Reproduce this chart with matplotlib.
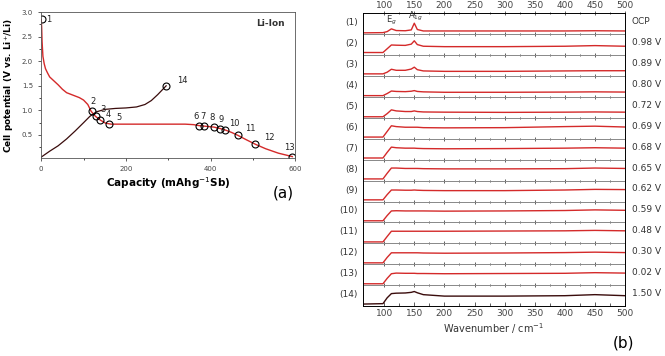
import matplotlib.pyplot as plt

# ---- panel (a): galvanostatic curve ----
cap_dis = [0, 1, 2, 4, 7, 10, 15, 20, 30, 40, 50, 60, 75, 90, 100, 110, 118, 128, 140, 152, 165,
           200, 250, 300, 340, 360, 373, 385, 408, 423, 435, 450, 465, 485, 506, 530, 560, 593]
v_dis = [2.85, 2.7, 2.4, 2.1, 1.95, 1.85, 1.76, 1.68, 1.6, 1.52, 1.43, 1.36, 1.31, 1.26, 1.21, 1.12,
         0.98, 0.88, 0.8, 0.74, 0.72, 0.72, 0.72, 0.72, 0.72, 0.71, 0.69, 0.68, 0.66, 0.63, 0.6, 0.55,
         0.49, 0.4, 0.31, 0.22, 0.13, 0.06]
cap_ch = [0, 20, 40, 60, 80, 100, 115, 130, 150, 175, 200, 225, 245, 260, 275, 295]
v_ch = [0.05, 0.17, 0.28, 0.42, 0.58, 0.75, 0.88, 0.97, 1.02, 1.04, 1.05, 1.07, 1.12, 1.2, 1.32, 1.5]

pt_cap = [1, 119, 129, 139, 161, 373, 385, 408, 423, 435, 465, 506, 593, 295]
pt_v = [2.85, 0.98, 0.88, 0.8, 0.72, 0.69, 0.68, 0.66, 0.63, 0.6, 0.49, 0.31, 0.06, 1.5]
pt_lab = ["1", "2", "3", "4", "5", "6", "7", "8", "9", "10", "11", "12", "13", "14"]
pt_off = [(3, -2), (-1, 5), (3, 3), (4, 2), (5, 3), (-4, 5), (-3, 5), (-3, 5), (-1, 5), (3, 3),
          (5, 3), (6, 3), (-6, 5), (8, 2)]

# ---- panel (b): Raman spectra ----
wn = [65, 98, 105, 112, 120, 135, 145, 150, 155, 165, 200, 300, 400, 450, 500]
spectra = [
    [0.06, 0.07, 0.12, 0.25, 0.17, 0.16, 0.2, 0.52, 0.22, 0.15, 0.15, 0.15, 0.15, 0.16, 0.15],
    [0.12, 0.12, 0.3, 0.48, 0.47, 0.46, 0.52, 0.68, 0.5, 0.42, 0.4, 0.4, 0.42, 0.45, 0.42],
    [0.1, 0.1, 0.18, 0.32, 0.27, 0.27, 0.33, 0.42, 0.3, 0.24, 0.22, 0.22, 0.24, 0.25, 0.25],
    [0.06, 0.06, 0.16, 0.28, 0.26, 0.25, 0.27, 0.3, 0.26, 0.24, 0.22, 0.22, 0.23, 0.24, 0.23],
    [0.05, 0.05, 0.2, 0.38, 0.33, 0.3, 0.3, 0.33, 0.3, 0.28, 0.27, 0.26, 0.27, 0.28, 0.27],
    [0.08, 0.08, 0.35, 0.62, 0.58, 0.55, 0.55, 0.55, 0.55, 0.53, 0.52, 0.53, 0.58, 0.6, 0.56],
    [0.08, 0.08, 0.35, 0.6, 0.57, 0.55, 0.55, 0.55, 0.54, 0.53, 0.52, 0.53, 0.55, 0.57, 0.55],
    [0.08, 0.08, 0.35, 0.6, 0.6, 0.58, 0.58, 0.58, 0.58, 0.57, 0.56, 0.56, 0.57, 0.6, 0.58],
    [0.08, 0.08, 0.33, 0.55, 0.55, 0.54, 0.54, 0.55, 0.54, 0.53, 0.52, 0.52, 0.55, 0.58, 0.57],
    [0.08, 0.08, 0.33, 0.55, 0.56, 0.55, 0.55, 0.55, 0.55, 0.55, 0.54, 0.55, 0.57, 0.6, 0.58],
    [0.07, 0.07, 0.33, 0.58, 0.58, 0.58, 0.58, 0.58, 0.58, 0.58, 0.58, 0.59, 0.6, 0.62, 0.6],
    [0.07, 0.07, 0.33, 0.55, 0.55, 0.55, 0.55, 0.55, 0.55, 0.54, 0.53, 0.54, 0.56, 0.58, 0.56],
    [0.07, 0.07, 0.33, 0.55, 0.58, 0.57, 0.57, 0.57, 0.56, 0.56, 0.55, 0.56, 0.57, 0.6, 0.58],
    [0.1, 0.12, 0.4, 0.6, 0.62, 0.63, 0.66, 0.7, 0.64, 0.55, 0.48, 0.48, 0.5, 0.55, 0.5],
]
potentials = ["OCP", "0.98 V", "0.89 V", "0.80 V", "0.72 V", "0.69 V", "0.68 V", "0.65 V",
              "0.62 V", "0.59 V", "0.48 V", "0.30 V", "0.02 V", "1.50 V"]

RED = "#d42a2a"
DARK = "#3a0c0c"

fig = plt.figure(figsize=(6.65, 3.56), dpi=100)

# panel (a)
ax = fig.add_axes([0.062, 0.556, 0.382, 0.41])
ax.plot(cap_dis, v_dis, color=RED, lw=1.0)
ax.plot(cap_ch, v_ch, color=DARK, lw=0.9)
ax.plot(pt_cap, pt_v, "o", mfc="none", mec="black", ms=5, mew=0.8)
for c, v, t, o in zip(pt_cap, pt_v, pt_lab, pt_off):
    ax.annotate(t, (c, v), xytext=o, textcoords="offset points", fontsize=6, color="#222222")
ax.set_xlim(0, 600)
ax.set_ylim(0.03, 3.0)
ax.set_xticks([0, 200, 400, 600])
ax.set_xticks([100, 300, 500], minor=True)
ax.set_yticks([0.5, 1.0, 1.5, 2.0, 2.5, 3.0])
ax.set_yticks([0.25, 0.75, 1.25, 1.75, 2.25, 2.75], minor=True)
ax.tick_params(labelsize=5, length=2.5, width=0.6, colors="#444444")
ax.tick_params(which="minor", length=1.5, width=0.5)
for s in ax.spines.values():
    s.set_linewidth(0.6)
    s.set_color("#555555")
ax.set_xlabel("Capacity (mAhg$^{-1}$Sb)", fontsize=7.5, fontweight="bold", labelpad=2)
ax.set_ylabel("Cell potential (V vs. Li$^{+}$/Li)", fontsize=6.5, fontweight="bold", labelpad=4)
ax.text(0.96, 0.95, "Li-Ion", transform=ax.transAxes, ha="right", va="top",
        fontsize=6.5, fontweight="bold", color="#333333")
fig.text(0.41, 0.445, "(a)", fontsize=11)

# panel (b)
left, width, top, bottom = 0.546, 0.394, 0.963, 0.140
h = (top - bottom) / len(spectra)
for i, y in enumerate(spectra):
    a = fig.add_axes([left, top - (i + 1) * h, width, h])
    a.plot(wn, y, color=DARK if i == len(spectra) - 1 else RED, lw=1.0)
    a.set_xlim(65, 500)
    a.set_ylim(0, 1)
    a.set_yticks([])
    a.set_xticks(range(100, 501, 50))
    a.set_xticks(range(125, 500, 50), minor=True)
    a.spines["top"].set_visible(i == 0)
    a.spines["bottom"].set_color("black" if i == len(spectra) - 1 else "#888888")
    for s in a.spines.values():
        s.set_linewidth(0.7)
    a.tick_params(axis="x", which="both", direction="inout", length=3, width=0.6,
                  labelbottom=False, colors="#444444")
    a.tick_params(axis="x", which="minor", length=2)
    a.patch.set_alpha(0)
    a.text(-0.02, 0.55, "(%d)" % (i + 1), transform=a.transAxes, ha="right", va="center",
           fontsize=6.5, color="#333333")
    a.text(1.025, 0.6, potentials[i], transform=a.transAxes, ha="left", va="center",
           fontsize=6.5, color="#333333")
    if i == 0:
        a.tick_params(axis="x", which="both", top=True, labeltop=True, labelsize=6.5, pad=1)
        a.text(112, 0.63, "E$_g$", fontsize=6, ha="center", va="center", color="#333333")
        a.text(152, 0.84, "A$_{1g}$", fontsize=6, ha="center", va="center", color="#333333")
    if i == len(spectra) - 1:
        a.tick_params(axis="x", which="both", direction="in", labelbottom=True, labelsize=6.5, pad=2)
        a.set_xlabel("Wavenumber / cm$^{-1}$", fontsize=7, color="#333333", labelpad=2)
fig.text(0.922, 0.025, "(b)", fontsize=11)

fig.savefig("out.png", dpi=100)
